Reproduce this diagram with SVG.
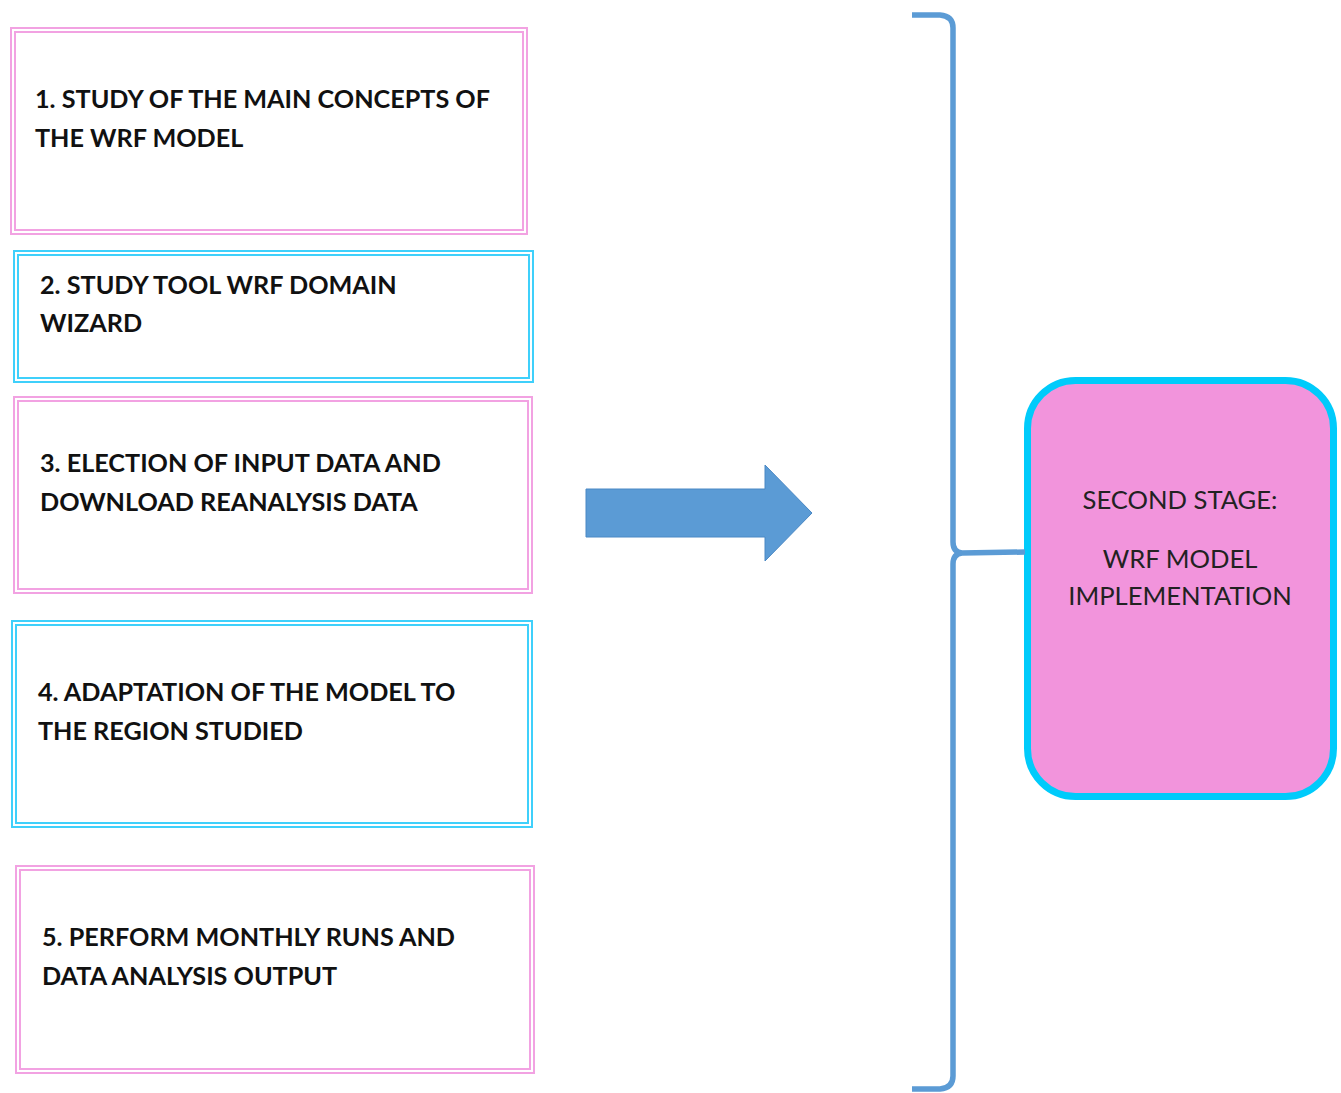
<svg xmlns="http://www.w3.org/2000/svg" width="1341" height="1093" viewBox="0 0 1341 1093">
  <style>
    .pink { fill: none; stroke: #f2a2e2; stroke-width: 2; }
    .cyan { fill: none; stroke: #3fd0fb; stroke-width: 2; }
    .step { font-family: Lato, "Open Sans", sans-serif; font-weight: bold; font-size: 25.2px; fill: #111; }
    .stage { font-family: Lato, "Open Sans", sans-serif; font-size: 25.6px; fill: #222; text-anchor: middle; }
    .brace { fill: none; stroke: #5b9bd5; stroke-width: 5.5; stroke-linejoin: round; }
  </style>
  <rect width="1341" height="1093" fill="#ffffff"/>

  <!-- step boxes -->
  <g id="step1">
    <rect class="pink" x="11" y="28" width="516" height="206"/>
    <rect class="pink" x="15" y="32" width="508" height="198"/>
    <text class="step" x="35" y="108">1. STUDY OF THE MAIN CONCEPTS OF</text>
    <text class="step" x="35" y="147">THE WRF MODEL</text>
  </g>
  <g id="step2">
    <rect class="cyan" x="14" y="251" width="519" height="131"/>
    <rect class="cyan" x="18" y="255" width="511" height="123"/>
    <text class="step" x="40" y="294">2. STUDY TOOL WRF DOMAIN</text>
    <text class="step" x="40" y="332">WIZARD</text>
  </g>
  <g id="step3">
    <rect class="pink" x="14" y="397" width="518" height="196"/>
    <rect class="pink" x="18" y="401" width="510" height="188"/>
    <text class="step" x="40" y="472">3. ELECTION OF INPUT DATA AND</text>
    <text class="step" x="40" y="511">DOWNLOAD REANALYSIS DATA</text>
  </g>
  <g id="step4">
    <rect class="cyan" x="12" y="621" width="520" height="206"/>
    <rect class="cyan" x="16" y="625" width="512" height="198"/>
    <text class="step" x="38" y="701">4. ADAPTATION OF THE MODEL TO</text>
    <text class="step" x="38" y="740">THE REGION STUDIED</text>
  </g>
  <g id="step5">
    <rect class="pink" x="16" y="866" width="518" height="207"/>
    <rect class="pink" x="20" y="870" width="510" height="199"/>
    <text class="step" x="42" y="946">5. PERFORM MONTHLY RUNS AND</text>
    <text class="step" x="42" y="985">DATA ANALYSIS OUTPUT</text>
  </g>

  <!-- stage box -->
  <g id="stage">
    <rect x="1027.5" y="380.5" width="306" height="416" rx="48" fill="#f294dc" stroke="#00cbfb" stroke-width="7"/>
    <text class="stage" x="1180" y="509">SECOND STAGE:</text>
    <text class="stage" x="1180" y="568">WRF MODEL</text>
    <text class="stage" x="1180" y="605">IMPLEMENTATION</text>
  </g>

  <!-- connectors: block arrow and grouping brace -->
  <g id="connectors">
    <path d="M586 489 H765 V465 L812 513 L765 561 V537 H586 Z" fill="#5b9bd5" stroke="#4a88c4" stroke-width="1"/>
    <path class="brace" d="M912 15 H940 Q953 16 953 28 V542 Q953 552 962 553 L1025 552 M962 553 Q953 554 953 564 V1076 Q953 1088 940 1089 H912"/>
  </g>
</svg>
